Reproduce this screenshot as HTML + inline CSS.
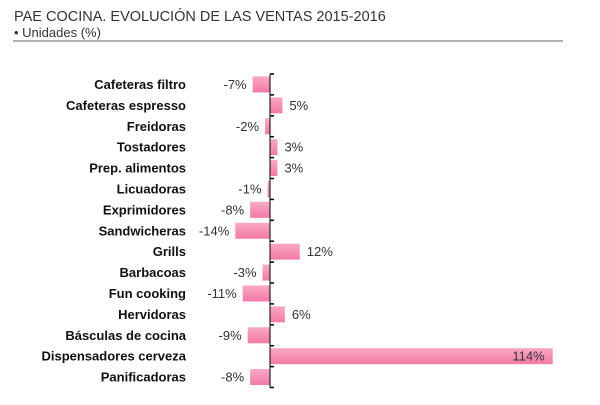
<!DOCTYPE html>
<html><head><meta charset="utf-8"><style>
body{margin:0;background:#fff;width:600px;height:400px;overflow:hidden;font-family:"Liberation Sans",sans-serif}
</style></head><body>
<svg width="600" height="400">
<defs><linearGradient id="g" x1="0" y1="0" x2="0" y2="1">
<stop offset="0" stop-color="#f9a9c6"/><stop offset="0.5" stop-color="#f690b4"/><stop offset="1" stop-color="#f47aa6"/></linearGradient></defs>
<text x="14" y="21" font-size="14.5" fill="#333">PAE COCINA. EVOLUCIÓN DE LAS VENTAS 2015-2016</text>
<text x="14" y="37" font-size="13" fill="#333">• Unidades (%)</text>
<line x1="13" y1="41" x2="563" y2="41" stroke="#666" stroke-width="1"/>
<g id="plot"></g>
</svg>
<script>
const categories=["Cafeteras filtro","Cafeteras espresso","Freidoras","Tostadores","Prep. alimentos","Licuadoras","Exprimidores","Sandwicheras","Grills","Barbacoas","Fun cooking","Hervidoras","Básculas de cocina","Dispensadores cerveza","Panificadoras"];
const values=[-7,5,-2,3,3,-1,-8,-14,12,-3,-11,6,-9,114,-8];
const labels=["-7%","5%","-2%","3%","3%","-1%","-8%","-14%","12%","-3%","-11%","6%","-9%","114%","-8%"];
const x0=270,scale=2.48,plotTop=74,rowH=20.9,barH=16;
const xs=v=>x0+v*scale;
const yc=i=>plotTop+rowH*i+rowH/2;
const ns="http://www.w3.org/2000/svg";
const g=document.getElementById('plot');
function mk(t,a){const e=document.createElementNS(ns,t);for(const k in a)e.setAttribute(k,a[k]);g.appendChild(e);return e;}
categories.forEach((c,i)=>{
  const v=values[i],y=yc(i);
  const r=mk('rect',{x:Math.min(xs(0),xs(v)),y:y-barH/2,width:Math.abs(xs(v)-xs(0)),height:barH,fill:'url(#g)'});
  
  
  const t=mk('text',{x:186,y:y+4.5,'font-size':13,'font-weight':'bold','text-anchor':'end',fill:'#111'});
  t.textContent=c;
  
  
  let lx,anc;
  if(v<0){lx=xs(v)-6;anc='end';}
  else if(xs(v)>480){lx=xs(v)-8;anc='end';}
  else{lx=xs(v)+7;anc='start';}
  const vl=mk('text',{x:lx,y:y+4.5,'font-size':13,'text-anchor':anc,fill:'#333'});
  vl.textContent=labels[i];
  
  
});
for(let i=0;i<=categories.length;i++){
  const y=plotTop+rowH*i;
  const tk=mk('line',{x1:x0,y1:y,x2:x0+4,y2:y,stroke:'#000','stroke-width':1.5});
  
  
}
const ax=mk('line',{x1:x0,y1:plotTop,x2:x0,y2:plotTop+rowH*categories.length,stroke:'#000','stroke-width':1});


</script>
</body></html>
